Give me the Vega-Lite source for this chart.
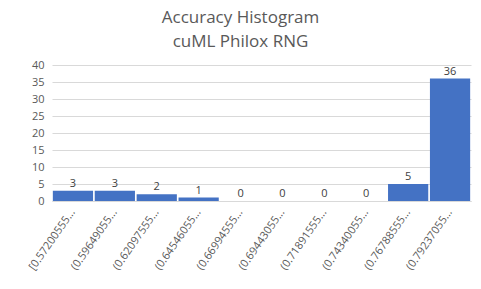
{
  "$schema": "https://vega.github.io/schema/vega-lite/v6.json",
  "autosize": "none",
  "width": 419,
  "height": 136,
  "padding": {"left": 52, "top": 65, "right": 10, "bottom": 88},
  "background": "white",
  "title": {
    "text": ["Accuracy Histogram", "cuML Philox RNG"],
    "font": "Open Sans",
    "fontSize": 17,
    "fontWeight": "normal",
    "color": "#595959",
    "lineHeight": 24,
    "anchor": "middle",
    "dx": -21,
    "offset": 8
  },
  "data": {
    "values": [
      {"bin": "[0.57200555...", "count": 3},
      {"bin": "(0.59649055...", "count": 3},
      {"bin": "(0.62097555...", "count": 2},
      {"bin": "(0.64546055...", "count": 1},
      {"bin": "(0.66994555...", "count": 0},
      {"bin": "(0.69443055...", "count": 0},
      {"bin": "(0.71891555...", "count": 0},
      {"bin": "(0.74340055...", "count": 0},
      {"bin": "(0.76788555...", "count": 5},
      {"bin": "(0.79237055...", "count": 36}
    ]
  },
  "encoding": {
    "x": {
      "field": "bin", "type": "nominal", "sort": null,
      "scale": {"paddingInner": 0.04, "paddingOuter": 0.02},
      "axis": {
        "title": null, "labelAngle": -55, "labelAlign": "right", "labelBaseline": "middle",
        "labelFont": "Open Sans", "labelFontSize": 11, "labelColor": "#595959",
        "ticks": false, "domainColor": "#d9d9d9", "labelPadding": 9, "labelLimit": 200
      }
    },
    "y": {
      "field": "count", "type": "quantitative",
      "scale": {"domain": [0, 40], "nice": false},
      "axis": {
        "title": null, "values": [0, 5, 10, 15, 20, 25, 30, 35, 40],
        "labelFont": "Open Sans", "labelFontSize": 11, "labelColor": "#595959",
        "ticks": false, "domain": false, "gridColor": "#d9d9d9", "labelPadding": 8
      }
    }
  },
  "layer": [
    {"mark": {"type": "bar", "color": "#4472C4"}},
    {
      "mark": {"type": "text", "baseline": "bottom", "dy": -2, "font": "Open Sans", "fontSize": 11, "color": "#404040"},
      "encoding": {"text": {"field": "count", "type": "quantitative"}}
    }
  ],
  "config": {"view": {"stroke": null}}
}
